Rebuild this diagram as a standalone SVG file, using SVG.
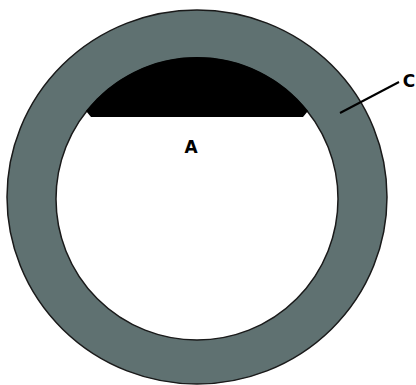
<svg xmlns="http://www.w3.org/2000/svg" width="416" height="385" viewBox="0 0 416 385">
<style>
.lbl{font-family:"DejaVu Sans","Liberation Sans",Arial,sans-serif;font-weight:bold;font-size:17px;fill:#000}
</style>
<rect width="416" height="385" fill="#fff"/>
<g id="ring">
<ellipse cx="197" cy="197" rx="190" ry="187" fill="#5f7171" stroke="#1a1a1a" stroke-width="1.5"/>
<circle cx="197" cy="199" r="141" fill="#fff" stroke="#1a1a1a" stroke-width="1.5"/>
</g>
<g id="segment">
<path d="M 91 117 L 86 111 A 141 141 0 0 1 308 111 L 303 117 Z" fill="#000"/>
</g>
<g id="connectors">
<line x1="340" y1="113" x2="399" y2="82" stroke="#000" stroke-width="2"/>
</g>
<g id="labelA"><text class="lbl" x="191" y="153" text-anchor="middle">A</text></g>
<g id="labelC"><text class="lbl" x="409" y="87" text-anchor="middle">C</text></g>
</svg>
